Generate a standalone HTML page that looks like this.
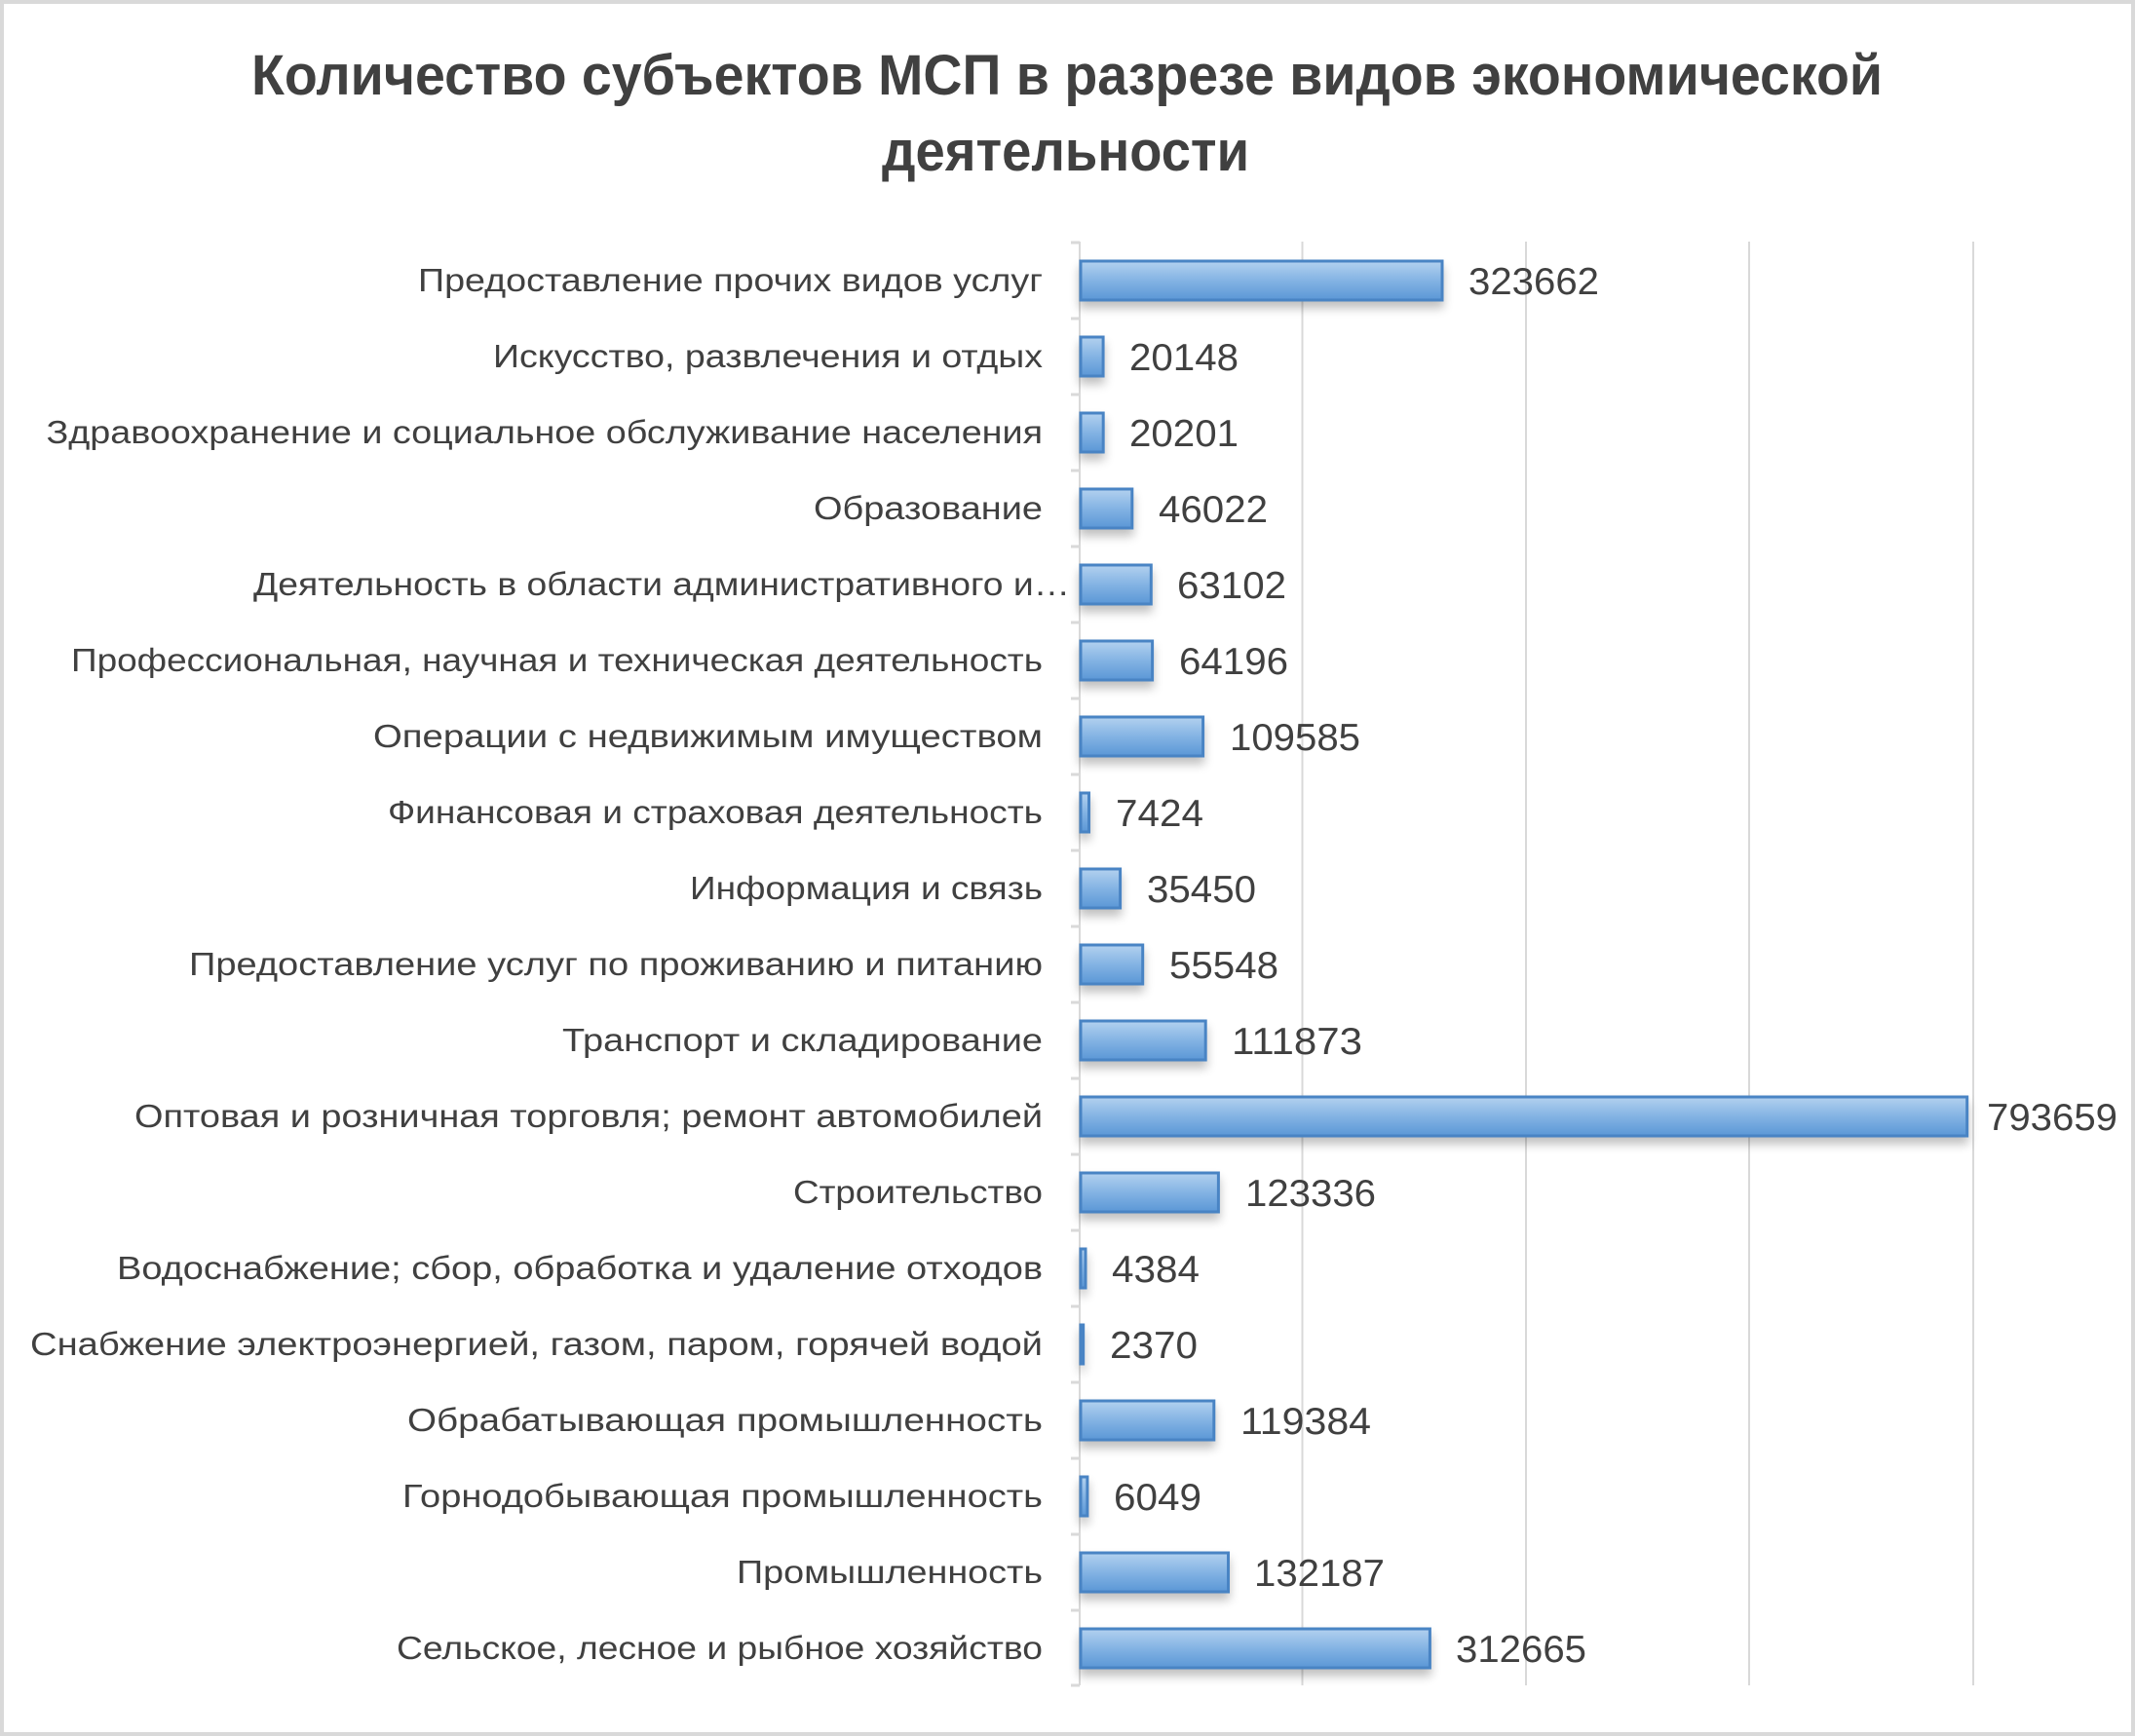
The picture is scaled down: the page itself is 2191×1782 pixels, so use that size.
<!DOCTYPE html>
<html><head><meta charset="utf-8"><style>
html,body{margin:0;padding:0;background:#fff}
svg{display:block}
</style></head><body>
<svg width="2191" height="1782" viewBox="0 0 2191 1782" xmlns="http://www.w3.org/2000/svg">
<defs>
<linearGradient id="g" x1="0" y1="0" x2="0" y2="1">
<stop offset="0" stop-color="#b3d1ef"/><stop offset="0.55" stop-color="#7fb0e2"/><stop offset="1" stop-color="#5b97d6"/>
</linearGradient>
<filter id="sh" x="-5%" y="-30%" width="110%" height="180%"><feGaussianBlur in="SourceAlpha" stdDeviation="5"/><feOffset dy="7"/><feComponentTransfer><feFuncA type="linear" slope="0.25"/></feComponentTransfer><feMerge><feMergeNode/><feMergeNode in="SourceGraphic"/></feMerge></filter>
</defs>
<rect x="2" y="2" width="2187" height="1778" fill="#fff" stroke="#d9d9d9" stroke-width="4"/>
<g font-family="Liberation Sans, sans-serif" font-weight="bold" font-size="58" fill="#404040">
<text x="258" y="97" textLength="1674" lengthAdjust="spacingAndGlyphs">Количество субъектов МСП в разрезе видов экономической</text>
<text x="905" y="175" textLength="377" lengthAdjust="spacingAndGlyphs">деятельности</text>
</g>
<g stroke="#d9d9d9" stroke-width="2">
<line x1="1336.5" y1="248" x2="1336.5" y2="1730"/>
<line x1="1566" y1="248" x2="1566" y2="1730"/>
<line x1="1795" y1="248" x2="1795" y2="1730"/>
<line x1="2025" y1="248" x2="2025" y2="1730"/>
<line x1="1108" y1="248" x2="1108" y2="1730"/>
</g>
<g stroke="#d9d9d9" stroke-width="3">
<line x1="1099" y1="249" x2="1108" y2="249"/><line x1="1099" y1="327" x2="1108" y2="327"/><line x1="1099" y1="405" x2="1108" y2="405"/><line x1="1099" y1="483" x2="1108" y2="483"/><line x1="1099" y1="561" x2="1108" y2="561"/><line x1="1099" y1="639" x2="1108" y2="639"/><line x1="1099" y1="717" x2="1108" y2="717"/><line x1="1099" y1="795" x2="1108" y2="795"/><line x1="1099" y1="873" x2="1108" y2="873"/><line x1="1099" y1="951" x2="1108" y2="951"/><line x1="1099" y1="1029" x2="1108" y2="1029"/><line x1="1099" y1="1107" x2="1108" y2="1107"/><line x1="1099" y1="1185" x2="1108" y2="1185"/><line x1="1099" y1="1263" x2="1108" y2="1263"/><line x1="1099" y1="1341" x2="1108" y2="1341"/><line x1="1099" y1="1419" x2="1108" y2="1419"/><line x1="1099" y1="1497" x2="1108" y2="1497"/><line x1="1099" y1="1575" x2="1108" y2="1575"/><line x1="1099" y1="1653" x2="1108" y2="1653"/><line x1="1099" y1="1730" x2="1108" y2="1730"/>
</g>
<g fill="url(#g)" stroke="#4a84c4" stroke-width="3" filter="url(#sh)">
<rect x="1109" y="268" width="371" height="40"/>
<rect x="1109" y="346" width="23.1" height="40"/>
<rect x="1109" y="424" width="23.2" height="40"/>
<rect x="1109" y="502" width="52.8" height="40"/>
<rect x="1109" y="580" width="72.3" height="40"/>
<rect x="1109" y="658" width="73.6" height="40"/>
<rect x="1109" y="736" width="125.6" height="40"/>
<rect x="1109" y="814" width="8.5" height="40"/>
<rect x="1109" y="892" width="40.6" height="40"/>
<rect x="1109" y="970" width="63.7" height="40"/>
<rect x="1109" y="1048" width="128.2" height="40"/>
<rect x="1109" y="1126" width="909.7" height="40"/>
<rect x="1109" y="1204" width="141.4" height="40"/>
<rect x="1109" y="1282" width="5" height="40"/>
<rect x="1109" y="1360" width="2.7" height="40"/>
<rect x="1109" y="1438" width="136.8" height="40"/>
<rect x="1109" y="1516" width="6.9" height="40"/>
<rect x="1109" y="1594" width="151.5" height="40"/>
<rect x="1109" y="1672" width="358.4" height="40"/>
</g>
<g font-family="Liberation Sans, sans-serif" font-size="33" fill="#404040">
<text x="429" y="299" textLength="641" lengthAdjust="spacingAndGlyphs">Предоставление прочих видов услуг</text>
<text x="506" y="377" textLength="564" lengthAdjust="spacingAndGlyphs">Искусство, развлечения и отдых</text>
<text x="47.5" y="455" textLength="1022.5" lengthAdjust="spacingAndGlyphs">Здравоохранение и социальное обслуживание населения</text>
<text x="835" y="533" textLength="235" lengthAdjust="spacingAndGlyphs">Образование</text>
<text x="260" y="611" textLength="838" lengthAdjust="spacingAndGlyphs">Деятельность в области административного и…</text>
<text x="73" y="689" textLength="997" lengthAdjust="spacingAndGlyphs">Профессиональная, научная и техническая деятельность</text>
<text x="383" y="767" textLength="687" lengthAdjust="spacingAndGlyphs">Операции с недвижимым имуществом</text>
<text x="398" y="845" textLength="672" lengthAdjust="spacingAndGlyphs">Финансовая и страховая деятельность</text>
<text x="708" y="923" textLength="362" lengthAdjust="spacingAndGlyphs">Информация и связь</text>
<text x="194" y="1001" textLength="876" lengthAdjust="spacingAndGlyphs">Предоставление услуг по проживанию и питанию</text>
<text x="577" y="1079" textLength="493" lengthAdjust="spacingAndGlyphs">Транспорт и складирование</text>
<text x="138" y="1157" textLength="932" lengthAdjust="spacingAndGlyphs">Оптовая и розничная торговля; ремонт автомобилей</text>
<text x="814" y="1235" textLength="256" lengthAdjust="spacingAndGlyphs">Строительство</text>
<text x="120" y="1313" textLength="950" lengthAdjust="spacingAndGlyphs">Водоснабжение; сбор, обработка и удаление отходов</text>
<text x="31" y="1391" textLength="1039" lengthAdjust="spacingAndGlyphs">Снабжение электроэнергией, газом, паром, горячей водой</text>
<text x="418" y="1469" textLength="652" lengthAdjust="spacingAndGlyphs">Обрабатывающая   промышленность</text>
<text x="413" y="1547" textLength="657" lengthAdjust="spacingAndGlyphs">Горнодобывающая промышленность</text>
<text x="756" y="1625" textLength="314" lengthAdjust="spacingAndGlyphs">Промышленность</text>
<text x="407" y="1703" textLength="663" lengthAdjust="spacingAndGlyphs">Сельское, лесное и рыбное хозяйство</text>
</g>
<g font-family="Liberation Sans, sans-serif" font-size="39" fill="#404040">
<text x="1507" y="302" textLength="134" lengthAdjust="spacingAndGlyphs">323662</text>
<text x="1159" y="380" textLength="112" lengthAdjust="spacingAndGlyphs">20148</text>
<text x="1159" y="458" textLength="112" lengthAdjust="spacingAndGlyphs">20201</text>
<text x="1189" y="536" textLength="112" lengthAdjust="spacingAndGlyphs">46022</text>
<text x="1208" y="614" textLength="112" lengthAdjust="spacingAndGlyphs">63102</text>
<text x="1210" y="692" textLength="112" lengthAdjust="spacingAndGlyphs">64196</text>
<text x="1262" y="770" textLength="134" lengthAdjust="spacingAndGlyphs">109585</text>
<text x="1145" y="848" textLength="90" lengthAdjust="spacingAndGlyphs">7424</text>
<text x="1177" y="926" textLength="112" lengthAdjust="spacingAndGlyphs">35450</text>
<text x="1200" y="1004" textLength="112" lengthAdjust="spacingAndGlyphs">55548</text>
<text x="1264" y="1082" textLength="134" lengthAdjust="spacingAndGlyphs">111873</text>
<text x="2039" y="1160" textLength="134" lengthAdjust="spacingAndGlyphs">793659</text>
<text x="1278" y="1238" textLength="134" lengthAdjust="spacingAndGlyphs">123336</text>
<text x="1141" y="1316" textLength="90" lengthAdjust="spacingAndGlyphs">4384</text>
<text x="1139" y="1394" textLength="90" lengthAdjust="spacingAndGlyphs">2370</text>
<text x="1273" y="1472" textLength="134" lengthAdjust="spacingAndGlyphs">119384</text>
<text x="1143" y="1550" textLength="90" lengthAdjust="spacingAndGlyphs">6049</text>
<text x="1287" y="1628" textLength="134" lengthAdjust="spacingAndGlyphs">132187</text>
<text x="1494" y="1706" textLength="134" lengthAdjust="spacingAndGlyphs">312665</text>
</g>
</svg>
</body></html>
